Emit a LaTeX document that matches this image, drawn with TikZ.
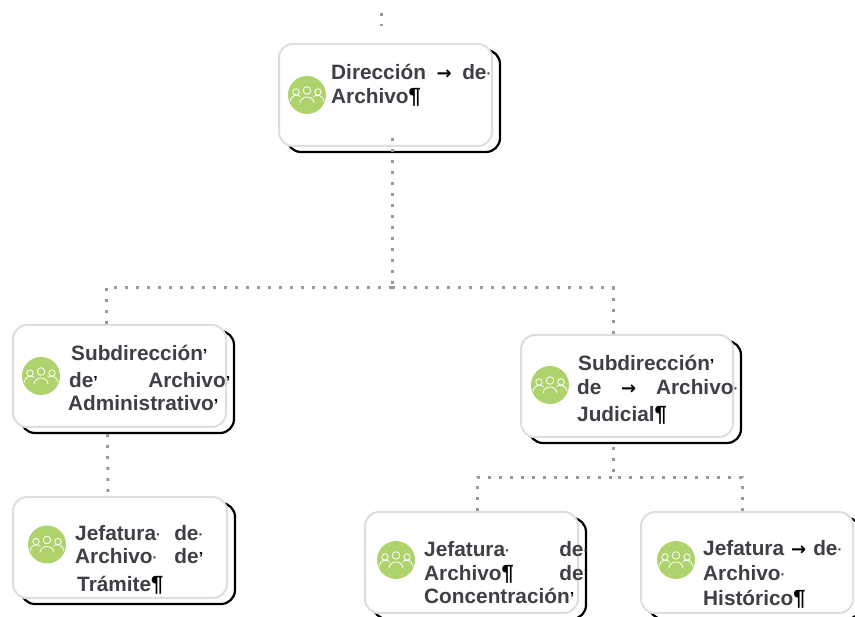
\documentclass[tikz,border=0pt]{standalone}
\usepackage{fontspec}
\setmainfont{Liberation Sans}
\newfontfamily\symfont{DejaVu Sans}
\usetikzlibrary{shadows}
\definecolor{txtc}{HTML}{3F3F46}
\definecolor{green1}{HTML}{AED36C}
\definecolor{edge1}{HTML}{DEDEDE}
\definecolor{dotc}{HTML}{9A9A9A}
\newcommand{\arw}{{\symfont\fontsize{18}{18}\selectfont\bfseries\color{black}→}}
\newcommand{\pil}{{\fontsize{22}{22}\selectfont\color{black}¶}}
\newcommand{\mdt}{{\fontsize{14}{14}\selectfont\raisebox{1pt}{·}}}
\newcommand{\tic}{{\fontsize{16}{16}\selectfont\color{black}'}}
\tikzset{
  card/.style={draw=edge1,line width=2pt,fill=white,rounded corners=14pt,inner sep=0pt,
    general shadow={shadow xshift=8pt,shadow yshift=-6pt,fill=white,draw=black,line width=2.2pt}},
  badge/.style={circle,fill=green1,minimum size=38pt,inner sep=0pt},
  txt/.style={anchor=base west,inner sep=0pt,yshift=-1pt,text=txtc,font=\fontsize{20.8}{24}\selectfont\bfseries},
  dots/.style={draw=dotc,line width=3pt,dash pattern=on 3pt off 8pt},
  people/.pic={
    \draw[white,line width=.8pt] (0,-4.5) circle (3.8) (-11,-3) circle (3.2) (11,-3) circle (3.2);
    \draw[white,line width=.8pt] (-7,8) .. controls (-6,0) and (6,0) .. (7,8);
    \draw[white,line width=.8pt] (-17,6.5) .. controls (-16,0) and (-10,-1) .. (-6.5,1.5);
    \draw[white,line width=.8pt] (17,6.5) .. controls (16,0) and (10,-1) .. (6.5,1.5);
  }
}
\begin{document}
\begin{tikzpicture}[x=1pt,y=-1pt]
\useasboundingbox (0,0) rectangle (855,617);
\clip (0,0) rectangle (855,617);
% cards
\node[card,minimum width=213pt,minimum height=102pt] (top) at (385.5,95) {};
\node[card,minimum width=213pt,minimum height=102pt] (sa) at (119.5,376) {};
\node[card,minimum width=212pt,minimum height=102pt] (sj) at (627,386) {};
\node[card,minimum width=214pt,minimum height=101pt] (jt) at (120,547.5) {};
\node[card,minimum width=213pt,minimum height=101pt] (jc) at (471.5,562.5) {};
\node[card,minimum width=212pt,minimum height=101pt] (jh) at (747,562.5) {};
% connectors
\coordinate (up1) at (381,13);
\coordinate (up2) at (381,26);
\coordinate (hub) at (392,288);
\coordinate (hubj) at (613,478);
\draw[dots] (up1) -- (up2);
\draw[dots] ([xshift=6.5pt,yshift=9pt]top.south) -- (hub);
\draw[dots] ([xshift=-13.5pt]sa.north) |- (hub);
\draw[dots] ([xshift=-14pt]sj.north) |- (hub);
\draw[dots] ([xshift=-12pt,yshift=-6pt]sa.south) -- ([xshift=-12pt]jt.north);
\draw[dots] ([xshift=-14pt,yshift=-9pt]sj.south) -- (hubj);
\draw[dots] ([xshift=5.5pt]jc.north) |- (hubj);
\draw[dots] ([xshift=-5pt]jh.north) |- (hubj);
% badges
\node[badge] (b1) at (307,95) {};
\node[badge] (b2) at (41,376) {};
\node[badge] (b3) at (550,385) {};
\node[badge] (b4) at (47,544.5) {};
\node[badge] (b5) at (396,560) {};
\node[badge] (b6) at (676,560) {};
\foreach \b in {b1,b2,b3,b4,b5,b6} \pic at (\b.center) {people};
% text
\node[txt] (t1) at (331,79) {\hbox to 160pt{Dirección\hfill\arw\hfill de\mdt}};
\node[txt] (t2) at (331,103) {Archivo\pil};
\node[txt] (a1) at (71,360) {Subdirección\tic};
\node[txt] (a2) at (69,387) {\hbox to 161pt{de\tic\hfill Archivo\tic}};
\node[txt] (a3) at (68,410) {Administrativo\tic};
\node[txt] (j1) at (578,370) {Subdirección\tic};
\node[txt] (j2) at (577,394) {\hbox to 161pt{de\hfill\arw\hfill Archivo\mdt}};
\node[txt] (j3) at (577,421) {Judicial\pil};
\node[txt] (c1) at (75,540) {\hbox to 128pt{Jefatura\mdt\hfill de\mdt}};
\node[txt] (c2) at (75,563) {\hbox to 128pt{Archivo\mdt\hfill de\tic}};
\node[txt] (c3) at (77,590) {Trámite\pil};
\node[txt] (d1) at (424,556) {\hbox to 164pt{Jefatura\mdt\hfill de\mdt}};
\node[txt] (d2) at (424,580) {\hbox to 164pt{Archivo\pil\hfill de\tic}};
\node[txt] (d3) at (424,603) {Concentración\tic};
\node[txt] (e1) at (703,555) {\hbox to 139pt{Jefatura\hfill\arw\hfill de\mdt}};
\node[txt] (e2) at (703,580) {Archivo\mdt};
\node[txt] (e3) at (703,605) {Histórico\pil};
\end{tikzpicture}
\end{document}
